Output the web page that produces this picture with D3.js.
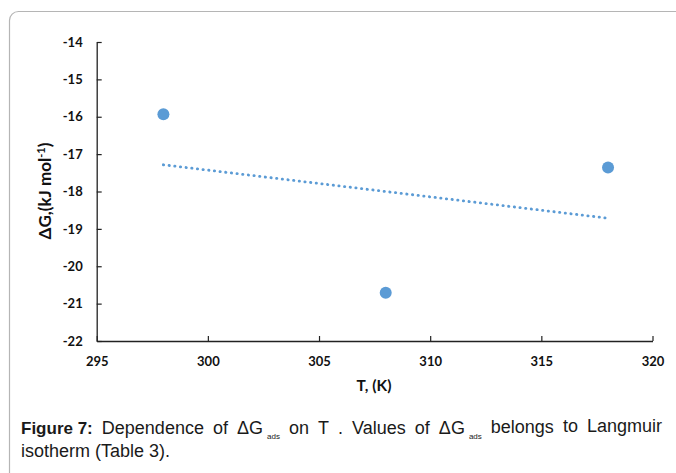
<!DOCTYPE html>
<html>
<head>
<meta charset="utf-8">
<script src="https://cdn.jsdelivr.net/npm/d3@7"></script>
<style>
  html, body { margin: 0; padding: 0; background: #fff; }
  svg { display: block; }
</style>
</head>
<body>
<script>
// Data
const temps = [298, 308, 318];
const dG = [-15.93, -20.71, -17.36];
const xTicks = [295, 300, 305, 310, 315, 320];
const yTicks = [-14, -15, -16, -17, -18, -19, -20, -21, -22];

const W = 676, H = 473;
const svg = d3.select("body").append("svg").attr("width", W).attr("height", H);

// panel border
svg.append("rect")
  .attr("x", 9.5).attr("y", 11.5)
  .attr("width", 720).attr("height", 470)
  .attr("rx", 9).attr("ry", 9)
  .attr("fill", "none").attr("stroke", "#b5b5b5").attr("stroke-width", 1.2);

const x = d3.scaleLinear().domain([295, 320]).range([96.7, 652.5]);
const y = d3.scaleLinear().domain([-22, -14]).range([341, 42]);

const tickFont = "Lato, 'Open Sans', sans-serif";

const gx = svg.append("g").attr("transform", `translate(0,${y(-22)})`)
  .call(d3.axisBottom(x).tickValues(xTicks).tickFormat(d => String(d))
    .tickSizeInner(-5).tickSizeOuter(0).tickPadding(16));
const gy = svg.append("g").attr("transform", `translate(${x(295)},0)`)
  .call(d3.axisLeft(y).tickValues(yTicks).tickFormat(d => String(d))
    .tickSizeInner(-5).tickSizeOuter(0).tickPadding(14));

[gx, gy].forEach(g => {
  g.select(".domain").attr("stroke", "#222").attr("stroke-width", 1.3);
  g.selectAll(".tick line").attr("stroke", "#222").attr("stroke-width", 1.2);
  g.selectAll(".tick text")
    .attr("font-family", tickFont).attr("font-weight", "bold")
    .attr("font-size", "13px").attr("fill", "#111");
});

// trend line (least squares fit of the series)
const mx = d3.mean(temps), my = d3.mean(dG);
const slope = d3.sum(temps.map((t, i) => (t - mx) * (dG[i] - my))) /
              d3.sum(temps.map(t => (t - mx) * (t - mx)));
const icpt = my - slope * mx;
const tx = d3.extent(temps);
svg.append("path")
  .attr("d", d3.line().x(d => x(d)).y(d => y(icpt + slope * d))(tx))
  .attr("fill", "none").attr("stroke", "#5b9bd5")
  .attr("stroke-width", 2.8).attr("stroke-linecap", "round")
  .attr("stroke-dasharray", "0.3,5.4");

// points
svg.selectAll("circle.pt").data(temps).enter().append("circle")
  .attr("class", "pt")
  .attr("cx", d => x(d)).attr("cy", (d, i) => y(dG[i]))
  .attr("r", 6).attr("fill", "#5b9bd5");

// axis titles
svg.append("text")
  .attr("x", 374).attr("y", 391).attr("text-anchor", "middle")
  .attr("font-family", tickFont).attr("font-weight", "bold")
  .attr("font-size", "15.5px").attr("fill", "#111").text("T, (K)");

const yl = svg.append("text")
  .attr("transform", "translate(51,191) rotate(-90)")
  .attr("text-anchor", "middle")
  .attr("font-family", tickFont).attr("font-weight", "bold")
  .attr("font-size", "17px").attr("fill", "#111");
yl.append("tspan").text("ΔG,(kJ mol");
yl.append("tspan").attr("font-size", "11px").attr("dy", -6).text("-1");
yl.append("tspan").attr("dy", 6).text(")");

// caption (justified first line)
const capFont = "'Liberation Sans Narrow', 'Arial Narrow', 'Liberation Sans', Arial, sans-serif";
const cap = svg.append("g").attr("font-family", capFont).attr("fill", "#1a1a1a");
const left = 21, right = 662, capY = 434;
const tokens = [
  { t: "Figure 7:", bold: true },
  { t: "Dependence" }, { t: "of" }, { t: "ΔG", sub: "ads" }, { t: "on" },
  { t: "T" }, { t: "." }, { t: "Values" }, { t: "of" }, { t: "ΔG", sub: "ads" },
  { t: "belongs", dy: -1 }, { t: "to", dy: -2 }, { t: "Langmuir", dy: -2 }
];
const nodes = tokens.map(tok => {
  const g = cap.append("g");
  const main = g.append("text").attr("y", capY + (tok.dy || 0)).text(tok.t)
    .attr("font-size", tok.bold ? "17px" : "18px")
    .attr("font-family", tok.bold ? "'Liberation Sans', Arial, sans-serif" : null)
    .attr("font-weight", tok.bold ? "bold" : null);
  let w = main.node().getComputedTextLength();
  if (tok.sub) {
    const s = g.append("text").attr("x", w + 4).attr("y", capY + 5)
      .attr("font-size", "8px").text(tok.sub);
    w += 4 + s.node().getComputedTextLength();
  }
  return { g, w };
});
const total = d3.sum(nodes, d => d.w);
const gap = (right - left - total) / (nodes.length - 1);
let cx = left;
nodes.forEach(nd => { nd.g.attr("transform", `translate(${cx},0)`); cx += nd.w + gap; });

cap.append("text").attr("x", left).attr("y", 457).attr("font-size", "18px")
  .text("isotherm (Table 3).");
</script>
</body>
</html>
